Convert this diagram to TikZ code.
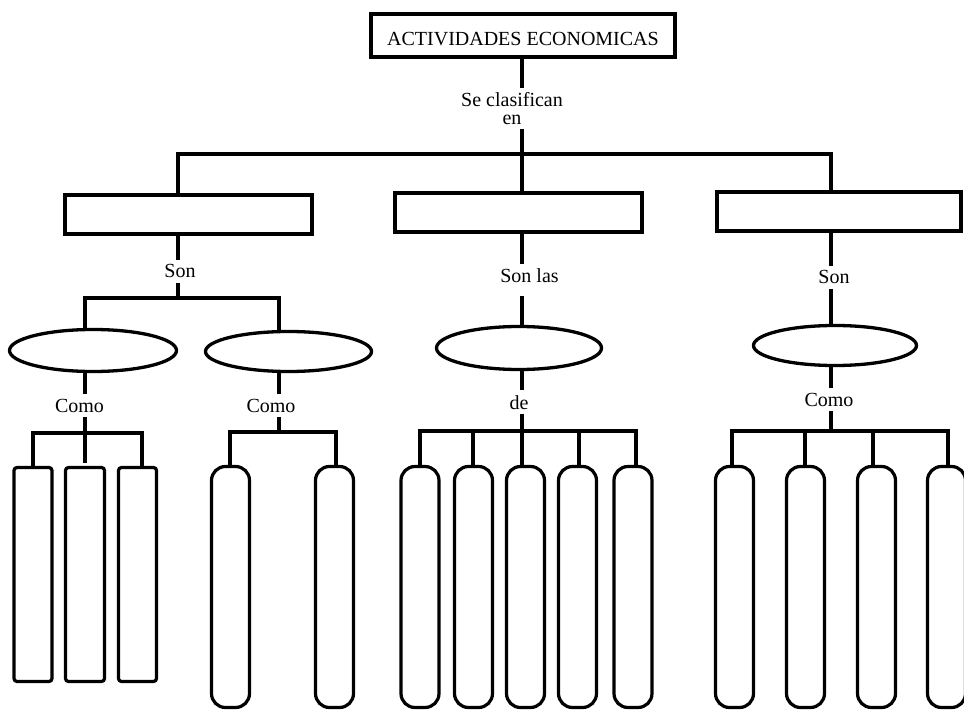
\documentclass[tikz,border=0pt]{standalone}
\usepackage{fontspec}
\setmainfont{Liberation Serif}
\usetikzlibrary{shapes.geometric,calc}
\begin{document}
\begin{tikzpicture}[x=1pt,y=-1pt,
  lbl/.style={font=\fontsize{20}{18}\selectfont, inner xsep=1pt, inner ysep=4.5pt, align=center},
  topbox/.style={draw, line width=4pt, minimum width=304pt, minimum height=43pt, inner sep=0pt, text height=20pt, text depth=0pt, font=\fontsize{20}{18}\selectfont},
  catbox/.style={draw, line width=4pt, minimum height=39pt, inner sep=0pt},
  oval/.style={draw, ellipse, line width=3.3pt, inner sep=0pt},
  slim/.style={draw, line width=3.2pt, rounded corners=3pt, minimum width=38pt, minimum height=214pt, inner sep=0pt},
  pill/.style={draw, line width=3.2pt, rounded corners=14pt, minimum width=38pt, minimum height=241pt, inner sep=0pt},
  conn/.style={line width=3.2pt, line join=miter}
]
\fill[white] (0,0) rectangle (964,711);
\useasboundingbox (0,0) rectangle (964,711);

% level 0
\node[topbox] (top) at (523,35.5) {ACTIVIDADES ECONOMICAS};
\node[lbl] (l0) at (512,108.5) {Se clasifican\\en};
\coordinate (jL) at (178,154);
\coordinate (jM) at (522,154);
\coordinate (jR) at (831,154);
\node[catbox, minimum width=247pt] (b1) at (188.5,215) {};
\node[catbox, minimum width=247pt] (b2) at (518.5,212.5) {};
\node[catbox, minimum width=244pt] (b3) at (839,211.5) {};
\draw[conn] (jM |- top.south) -- (jM |- l0.north);
\draw[conn] (jM |- l0.south) -- (jM);
\draw[conn] (jL |- b1.north) -- (jL) -- (jR) -- (jR |- b3.north);
\draw[conn] (jM) -- (jM |- b2.north);

% left group
\node[lbl, anchor=base] (l1) at (180,278) {Son};
\coordinate (k1) at (178,298);
\coordinate (k1a) at (85,298);
\coordinate (k1b) at (279,298);
\node[oval, minimum width=167pt, minimum height=42pt] (e1) at (93,350.5) {};
\node[oval, minimum width=166pt, minimum height=40pt] (e2) at (288.5,351.5) {};
\draw[conn] (jL |- b1.south) -- (jL |- l1.north);
\draw[conn] (jL |- l1.south) -- (k1);
\draw[conn] (k1a |- e1.north) -- (k1a) -- (k1b) -- (k1b |- e2.north);

\node[lbl, anchor=base] (l11) at (79.5,412) {Como};
\coordinate (m1) at (85,433);
\coordinate (m1a) at (33,433);
\coordinate (m1c) at (142,433);
\node[slim] (r1a) at (33,574.5) {};
\node[slim, minimum width=39pt] (r1b) at (85,574.5) {};
\node[slim] (r1c) at (137.5,574.5) {};
\draw[conn] (m1 |- e1.south) -- (m1 |- l11.north);
\draw[conn, shorten >=3pt] (m1 |- l11.south) -- (m1) -- (m1 |- r1b.north);
\draw[conn] (m1a |- r1a.north) -- (m1a) -- (m1c) -- (m1c |- r1c.north);

\node[lbl, anchor=base] (l12) at (271,412) {Como};
\coordinate (m2) at (279,432);
\coordinate (m2a) at (230,432);
\coordinate (m2b) at (336,432);
\node[pill] (r2a) at (230.5,587) {};
\node[pill] (r2b) at (334.5,587) {};
\draw[conn] (m2 |- e2.south) -- (m2 |- l12.north);
\draw[conn] (m2 |- l12.south) -- (m2);
\draw[conn] (m2a |- r2a.north) -- (m2a) -- (m2b) -- (m2b |- r2b.north);

% middle group
\node[lbl, anchor=base] (l2) at (529.5,283) {Son las};
\node[oval, minimum width=165pt, minimum height=43pt] (e3) at (519,348) {};
\draw[conn] (jM |- b2.south) -- (jM |- l2.north);
\draw[conn] ($(jM |- l2.south)+(0,8)$) -- (jM |- e3.north);
\node[lbl, anchor=base] (l3) at (519,409) {de};
\coordinate (m3) at (522,431);
\coordinate (m3a) at (420,431);
\coordinate (m3b) at (473,431);
\coordinate (m3d) at (579,431);
\coordinate (m3e) at (636,431);
\node[pill] (r3a) at (420,587) {};
\node[pill] (r3b) at (473.5,587) {};
\node[pill] (r3c) at (525.5,587) {};
\node[pill] (r3d) at (577.5,587) {};
\node[pill] (r3e) at (633,587) {};
\draw[conn] (jM |- e3.south) -- (jM |- l3.north);
\draw[conn] (jM |- l3.south) -- (m3) -- (m3 |- r3c.north);
\draw[conn] (m3a |- r3a.north) -- (m3a) -- (m3e) -- (m3e |- r3e.north);
\draw[conn] (m3b) -- (m3b |- r3b.north);
\draw[conn] (m3d) -- (m3d |- r3d.north);

% right group
\node[lbl, anchor=base] (l4) at (834,284) {Son};
\node[oval, minimum width=163pt, minimum height=40pt] (e4) at (835,345.5) {};
\draw[conn] (jR |- b3.south) -- (jR |- l4.north);
\draw[conn] (jR |- l4.south) -- (jR |- e4.north);
\node[lbl, anchor=base] (l5) at (829,406) {Como};
\coordinate (m4) at (831,431);
\coordinate (m4a) at (732,431);
\coordinate (m4b) at (805,431);
\coordinate (m4c) at (873,431);
\coordinate (m4d) at (948,431);
\node[pill] (r4a) at (734.5,587) {};
\node[pill] (r4b) at (805.5,587) {};
\node[pill] (r4c) at (876.5,587) {};
\node[pill] (r4d) at (946.5,587) {};
\draw[conn] (jR |- e4.south) -- (jR |- l5.north);
\draw[conn] (jR |- l5.south) -- (m4);
\draw[conn] (m4a |- r4a.north) -- (m4a) -- (m4d) -- (m4d |- r4d.north);
\draw[conn] (m4b) -- (m4b |- r4b.north);
\draw[conn] (m4c) -- (m4c |- r4c.north);
\end{tikzpicture}
\end{document}
